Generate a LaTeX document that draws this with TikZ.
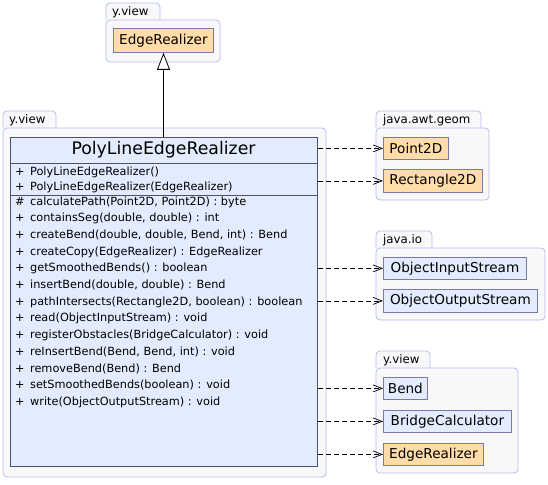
\documentclass[tikz,border=0pt]{standalone}
\usepackage{fontspec}
\setmainfont{DejaVu Sans}
\usetikzlibrary{arrows.meta}
\definecolor{pkgfill}{HTML}{F8F8F8}
\definecolor{pkgline}{HTML}{B4BEF0}
\definecolor{clsfill}{HTML}{E2ECFE}
\definecolor{clsline}{HTML}{7A7AA8}
\definecolor{clsdark}{HTML}{50506E}
\definecolor{extfill}{HTML}{FFDCA8}
\tikzset{
  pkg/.style={draw=pkgline, fill=pkgfill, line width=0.8pt, rounded corners=4pt},
  pkglabel/.style={anchor=west, inner sep=0pt, font=\fontsize{11.8}{13}\selectfont},
  box/.style={draw=clsline, line width=0.8pt, inner sep=0pt, anchor=north west,
    font=\fontsize{13.6}{15}\selectfont},
  extbox/.style={box, fill=extfill},
  inbox/.style={box, fill=clsfill},
  member/.style={anchor=west, inner sep=0pt, font=\fontsize{11.3}{13}\selectfont},
  sep/.style={draw=clsdark, line width=0.9pt},
  dep/.style={line width=0.7pt, dash pattern=on 5pt off 3pt, -{Straight Barb[length=9pt,width=7pt]}},
  inherit/.style={line width=0.8pt, -{Triangle[open,length=17pt,width=13pt,fill=white]}}
}
\begin{document}
\begin{tikzpicture}[x=1pt,y=-1pt]
\useasboundingbox (0,0) rectangle (548,484);
% top package
\filldraw[pkg] (106,20) -- (106,3) -- (160,3) -- (160,20);
\filldraw[pkg] (106,20) rectangle (220,62);
\node[pkglabel] (lbl1) at (112,12) {y.view};
\node[extbox, minimum width=100pt, minimum height=24pt] (er1) at (113,28) {EdgeRealizer};
% main package
\filldraw[pkg] (3,128) -- (3,111) -- (56,111) -- (56,128);
\filldraw[pkg] (3,128) rectangle (326,477);
\node[pkglabel] (lbl2) at (9,120) {y.view};
% class
\node[inbox, draw=clsdark, line width=0.9pt, minimum width=307pt, minimum height=329pt] (cls) at (10,137) {};
\draw[sep] (cls.west |- 0,163) -- (cls.east |- 0,163);
\draw[sep] (cls.west |- 0,195) -- (cls.east |- 0,195);
\node[inner sep=0pt, font=\fontsize{17.3}{19}\selectfont] (title) at (163.5,150) {PolyLineEdgeRealizer};
\node[member] (c1) at (15,172) {+ \,PolyLineEdgeRealizer()};
\node[member] (c2) at (15,187) {+ \,PolyLineEdgeRealizer(EdgeRealizer)};
\node[member] (m1) at (15,202) {\# \,calculatePath(Point2D, Point2D) : byte};
\node[member] (m2) at (15,218.7) {+ \,containsSeg(double, double) : int};
\node[member] (m3) at (15,235.3) {+ \,createBend(double, double, Bend, int) : Bend};
\node[member] (m4) at (15,252) {+ \,createCopy(EdgeRealizer) : EdgeRealizer};
\node[member] (m5) at (15,268.7) {+ \,getSmoothedBends() : boolean};
\node[member] (m6) at (15,285.3) {+ \,insertBend(double, double) : Bend};
\node[member] (m7) at (15,302) {+ \,pathIntersects(Rectangle2D, boolean) : boolean};
\node[member] (m8) at (15,318.7) {+ \,read(ObjectInputStream) : void};
\node[member] (m9) at (15,335.3) {+ \,registerObstacles(BridgeCalculator) : void};
\node[member] (m10) at (15,352) {+ \,reInsertBend(Bend, Bend, int) : void};
\node[member] (m11) at (15,368.7) {+ \,removeBend(Bend) : Bend};
\node[member] (m12) at (15,385.3) {+ \,setSmoothedBends(boolean) : void};
\node[member] (m13) at (15,402) {+ \,write(ObjectOutputStream) : void};
% java.awt.geom
\filldraw[pkg] (376,128) -- (376,111) -- (481,111) -- (481,128);
\filldraw[pkg] (376,128) rectangle (489,200);
\node[pkglabel] (lbl3) at (383,120) {java.awt.geom};
\node[extbox, minimum width=65pt, minimum height=22pt] (p2d) at (383,137) {Point2D};
\node[extbox, minimum width=99pt, minimum height=23pt] (r2d) at (383,169) {Rectangle2D};
% java.io
\filldraw[pkg] (376,248) -- (376,231) -- (432,231) -- (432,248);
\filldraw[pkg] (376,248) rectangle (545,320);
\node[pkglabel] (lbl4) at (383,240) {java.io};
\node[inbox, minimum width=143pt, minimum height=22pt] (ois) at (383,257) {ObjectInputStream};
\node[inbox, minimum width=154pt, minimum height=23pt] (oos) at (383,289) {ObjectOutputStream};
% y.view bottom
\filldraw[pkg] (376,368) -- (376,351) -- (430,351) -- (430,368);
\filldraw[pkg] (376,368) rectangle (518,473);
\node[pkglabel] (lbl5) at (383,360) {y.view};
\node[inbox, minimum width=44pt, minimum height=22pt] (bend) at (383,377) {Bend};
\node[inbox, minimum width=128pt, minimum height=22pt] (bc) at (383,410) {BridgeCalculator};
\node[extbox, minimum width=100pt, minimum height=22pt] (er2) at (383,443) {EdgeRealizer};
% connectors
\draw[inherit] (cls.north -| title) -- (title |- er1.south);
\draw[dep] (p2d.west -| cls.east) -- (p2d.west);
\draw[dep] (r2d.west -| cls.east) -- (r2d.west);
\draw[dep] (ois.west -| cls.east) -- (ois.west);
\draw[dep] (oos.west -| cls.east) -- (oos.west);
\draw[dep] (bend.west -| cls.east) -- (bend.west);
\draw[dep] (bc.west -| cls.east) -- (bc.west);
\draw[dep] (er2.west -| cls.east) -- (er2.west);
\end{tikzpicture}
\end{document}
